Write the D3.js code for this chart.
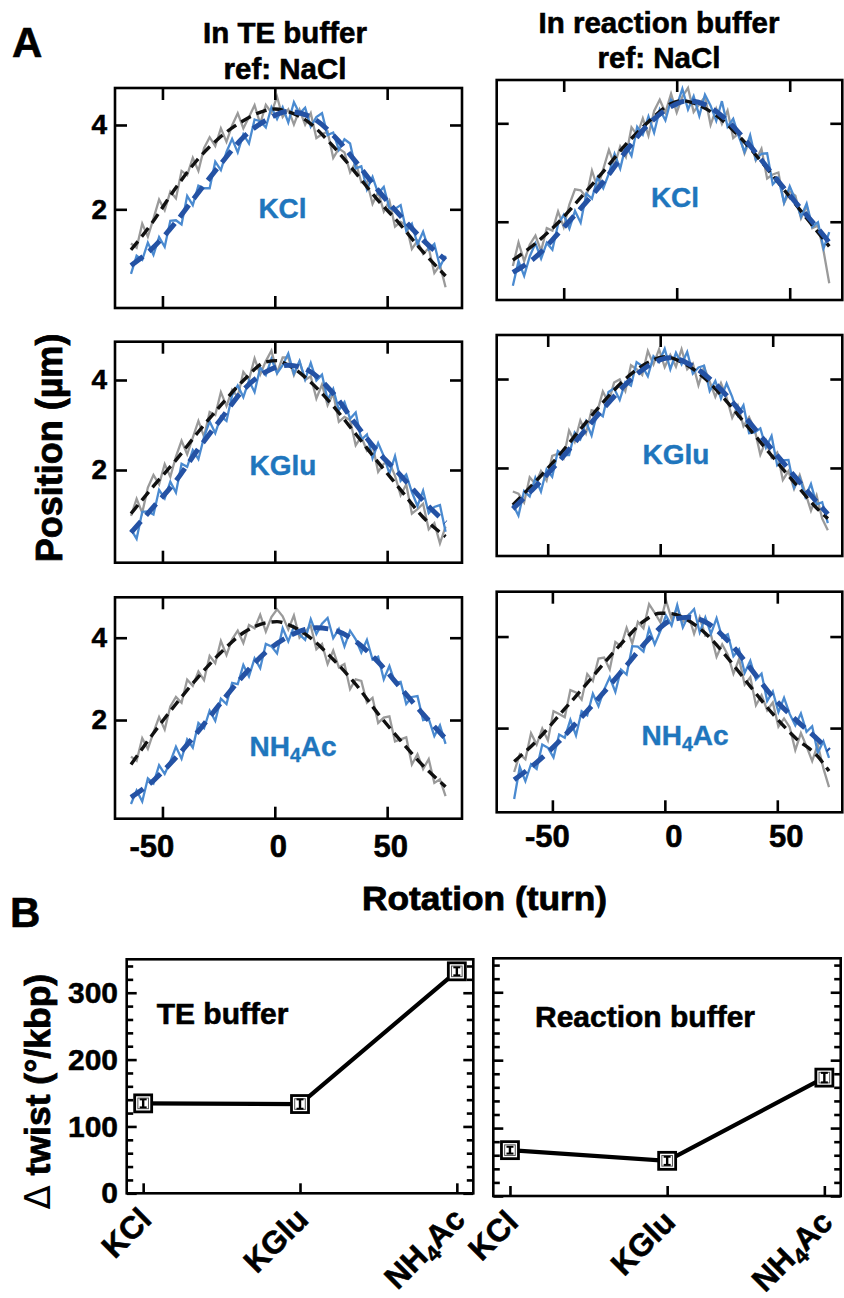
<!DOCTYPE html>
<html><head><meta charset="utf-8">
<script src="https://cdn.jsdelivr.net/npm/d3@7"></script>
<style>body{margin:0;background:#fff}svg{display:block}text{paint-order:stroke}</style>
</head><body>
<svg id="c" width="844" height="1298"></svg>
<script>
// ---------------- DATA ----------------
const salts = ["KCl", "KGlu", "NH4Ac"];
const rawStep = 2.5;                       // turns between samples
const rawStartTE = [-64, -64, -64];        // first rotation of each TE trace
const rawStartRB = [-72.5, -65.5, -67];    // first rotation of each reaction-buffer trace
const xTickVals = [-50, 0, 50];
const yTickVals = [2, 4];

// Panel A raw traces (position, µm), reference NaCl (grey) and salt (blue)
const teRefKCl = [1.19,1.09,1.66,1.35,1.78,2.23,1.98,2.42,2.26,2.91,2.81,3.22,2.91,3.45,3.71,3.50,3.92,3.60,3.99,4.28,3.92,4.19,4.47,4.03,4.48,4.29,4.67,4.19,4.37,4.01,4.36,4.01,4.28,3.69,3.78,3.84,3.22,3.44,3.35,2.88,3.11,2.64,2.66,2.13,2.41,1.95,2.20,1.59,1.70,1.63,1.06,1.25,0.94,1.08,0.49,0.68,0.15];
const teSaltKCl = [0.47,0.90,0.80,1.21,0.92,1.34,1.11,1.73,1.74,1.64,2.32,2.10,2.56,2.50,2.50,3.13,2.93,3.36,3.67,3.35,3.78,3.56,4.13,4.09,3.94,4.42,4.14,4.42,4.06,4.54,4.27,4.41,3.96,4.19,4.28,3.76,3.82,3.41,3.66,3.56,2.97,3.02,2.47,2.77,2.38,2.53,2.02,2.01,2.10,1.49,1.66,1.17,1.47,1.05,1.18,0.64,0.90];
const teRefKGlu = [0.98,1.36,1.05,1.61,1.89,1.68,2.13,1.85,2.30,2.65,2.35,2.72,3.09,2.74,3.29,3.22,3.73,3.42,3.78,3.63,4.18,4.01,4.48,4.12,4.42,4.65,4.16,4.50,4.50,4.11,4.41,4.00,4.08,3.59,3.90,3.44,3.70,3.07,3.18,3.11,2.55,2.74,2.43,2.55,1.96,2.14,2.17,1.87,1.44,1.68,1.03,1.13,1.25,0.68,0.82,0.37,0.74];
const teSaltKGlu = [0.68,0.47,1.07,1.08,1.01,1.56,1.37,1.74,1.50,2.14,2.07,2.44,2.24,2.73,3.08,2.82,3.19,3.09,3.66,3.88,3.62,3.99,3.73,4.28,4.11,4.47,4.15,4.33,4.59,4.14,4.42,4.01,4.38,3.99,4.12,3.56,3.80,3.33,3.51,3.14,3.28,2.67,2.79,2.26,2.60,2.31,1.92,2.31,1.76,1.90,1.51,1.20,1.54,1.04,1.18,1.22,0.63];
const teRefNH4 = [1.11,1.01,1.56,1.30,1.70,2.07,1.77,2.33,2.56,2.42,2.98,2.83,3.18,2.97,3.56,3.38,3.92,3.58,3.96,4.17,3.87,4.31,4.23,4.56,4.15,4.50,4.69,4.52,4.20,4.54,4.00,4.15,4.29,3.72,3.85,3.36,3.69,3.28,3.36,2.75,2.99,2.95,2.42,2.54,1.93,2.06,2.09,1.48,1.53,1.58,0.92,1.17,0.81,1.05,0.47,0.56,0.15];
const teSaltNH4 = [-0.04,0.29,0.02,0.58,0.46,0.90,0.69,0.99,1.35,1.06,1.53,1.33,1.93,1.80,2.23,1.98,2.52,2.39,2.90,2.87,3.34,3.06,3.50,3.26,3.85,3.79,3.62,4.23,3.91,4.27,4.08,3.95,4.45,4.09,4.34,4.48,3.99,4.21,3.79,4.17,3.96,3.64,3.95,3.47,3.54,2.99,3.31,2.90,2.93,2.39,2.56,2.58,2.00,2.03,1.61,1.87,1.42];
const rbRefKCl = [1.10,1.58,1.20,1.54,1.72,1.41,1.87,1.82,2.21,1.89,2.35,2.66,2.64,2.50,3.04,2.69,3.07,3.46,3.15,3.53,3.32,3.92,3.76,4.10,3.75,4.25,4.48,4.22,4.60,4.22,4.54,4.72,4.23,4.39,4.54,3.97,4.30,3.99,4.26,3.70,3.80,3.39,3.68,3.25,3.48,2.88,2.96,3.00,2.38,2.61,2.53,2.07,2.32,1.87,1.92,1.40,0.75];
const rbSaltKCl = [0.70,1.20,0.90,1.30,1.56,1.25,1.57,1.43,1.95,2.14,1.86,2.22,1.98,2.57,2.47,2.90,2.68,2.98,3.38,3.08,3.55,3.34,3.93,3.77,4.14,3.81,4.28,4.06,4.48,4.35,4.70,4.28,4.55,4.15,4.58,4.36,4.05,4.45,3.93,4.09,3.73,3.42,3.76,3.26,3.38,3.39,2.76,2.88,2.39,2.72,2.45,2.10,2.37,1.90,1.99,1.46,1.79];
const rbRefKGlu = [1.47,1.42,1.22,1.79,1.64,1.93,1.72,2.27,2.32,2.21,2.84,2.59,3.07,2.78,3.30,3.26,3.72,3.47,3.92,3.99,3.73,4.31,4.22,4.09,4.63,4.33,4.67,4.27,4.54,4.28,4.67,4.22,4.35,3.86,4.27,3.94,3.60,3.91,3.58,3.13,3.40,2.94,3.14,2.86,2.30,2.61,2.23,2.35,1.73,1.93,1.53,1.84,1.44,1.04,1.38,0.86,0.60];
const rbSaltKGlu = [1.18,0.93,1.48,1.36,1.78,1.47,1.97,1.80,2.38,2.29,2.29,2.80,2.65,3.04,2.73,3.25,3.16,3.71,3.79,3.53,3.93,3.85,4.38,4.29,4.06,4.51,4.38,4.68,4.22,4.59,4.33,4.61,4.12,4.26,4.30,3.73,3.96,3.56,3.90,3.60,3.19,3.41,2.78,2.80,2.89,2.46,2.72,2.06,2.17,2.18,1.56,1.78,1.35,1.64,1.18,1.23,0.76];
const rbRefNH4 = [1.04,1.43,1.32,1.89,1.64,1.99,1.73,2.37,2.31,2.24,2.83,2.78,2.62,3.18,3.03,3.52,3.54,3.28,3.88,3.79,4.19,3.85,4.32,4.18,4.71,4.52,4.31,4.79,4.38,4.62,4.32,4.47,4.06,4.42,4.02,4.04,3.56,3.83,3.60,3.19,3.51,2.95,3.11,2.50,2.72,2.39,2.56,2.03,2.21,2.02,1.52,1.89,1.60,1.28,1.64,1.12,0.71];
const rbSaltNH4 = [0.45,1.15,0.84,1.21,1.11,1.64,1.57,1.36,1.86,1.79,2.18,1.84,2.37,2.28,2.75,2.48,2.84,3.11,2.79,3.28,3.17,3.79,3.78,3.67,4.17,3.83,4.12,4.46,4.24,4.69,4.20,4.46,4.60,4.09,4.42,4.06,4.40,3.98,4.05,3.57,3.72,3.21,3.47,3.06,3.19,2.59,2.80,2.35,2.66,2.31,2.06,2.32,1.92,2.04,1.46,1.71,1.35];

// Panel A fitted curves: rotation (turn) and position (µm)
const teFitRefKClRot = [-64,-55,-45,-35,-25,-15,-5,0,5,15,25,35,45,55,65,76];
const teFitRefKClPos = [1.04,1.65,2.44,3.14,3.68,4.07,4.33,4.38,4.33,4.07,3.55,2.93,2.27,1.69,1.05,0.42];
const teFitSaltKClRot = [-64,-54,-44,-34,-24,-14,-4,6,16,26,36,46,56,66,76];
const teFitSaltKClPos = [0.67,1.10,1.70,2.40,3.08,3.71,4.11,4.32,4.19,3.76,3.13,2.45,1.84,1.27,0.80];
const teFitRefKGluRot = [-64,-54,-44,-34,-24,-14,-4,1,6,16,26,36,46,56,66,76];
const teFitRefKGluPos = [1.03,1.64,2.22,2.85,3.44,3.99,4.40,4.43,4.33,3.95,3.42,2.80,2.17,1.56,0.95,0.52];
const teFitSaltKGluRot = [-64,-54,-44,-34,-24,-14,-4,6,16,26,36,46,56,66,76];
const teFitSaltKGluPos = [0.61,1.18,1.76,2.47,3.13,3.78,4.18,4.33,4.18,3.70,3.02,2.40,1.88,1.32,0.83];
const teFitRefNH4Rot = [-64,-54,-44,-34,-24,-14,-4,1,6,16,26,36,46,56,66,76];
const teFitRefNH4Pos = [0.92,1.68,2.39,3.05,3.64,4.12,4.36,4.39,4.32,3.99,3.47,2.87,2.15,1.50,0.89,0.38];
const teFitSaltNH4Rot = [-64,-54,-44,-34,-24,-14,-4,6,13.5,18.5,26,36,46,56,66,76];
const teFitSaltNH4Pos = [0.12,0.53,1.09,1.73,2.42,3.08,3.65,4.03,4.20,4.24,4.19,3.91,3.41,2.78,2.14,1.55];
const rbFitRefKClRot = [-72.5,-62.5,-52.5,-42.5,-32.5,-22.5,-12.5,-2.5,2.5,7.5,17.5,27.5,37.5,47.5,57.5,67.5];
const rbFitRefKClPos = [1.22,1.56,1.98,2.49,3.02,3.57,4.03,4.40,4.46,4.41,4.16,3.74,3.22,2.65,2.07,1.50];
const rbFitSaltKClRot = [-72.5,-62.5,-52.5,-42.5,-32.5,-22.5,-12.5,-2.5,5,12.5,22.5,32.5,42.5,52.5,62.5,67.5];
const rbFitSaltKClPos = [0.97,1.28,1.76,2.27,2.81,3.43,3.98,4.34,4.46,4.38,4.05,3.54,2.96,2.40,1.86,1.58];
const rbFitRefKGluRot = [-65.5,-55.5,-45.5,-35.5,-25.5,-15.5,-5.5,2,9.5,19.5,29.5,39.5,49.5,59.5,69.5,74.5];
const rbFitRefKGluPos = [1.17,1.69,2.25,2.87,3.47,4.00,4.37,4.50,4.38,4.03,3.50,2.89,2.28,1.68,1.10,0.86];
const rbFitSaltKGluRot = [-65.5,-55.5,-45.5,-35.5,-25.5,-15.5,-5.5,4.5,14.5,24.5,34.5,44.5,54.5,64.5,74.5];
const rbFitSaltKGluPos = [1.08,1.58,2.12,2.72,3.32,3.87,4.29,4.48,4.29,3.89,3.34,2.73,2.13,1.53,0.96];
const rbFitRefNH4Rot = [-67,-57,-47,-37,-27,-17,-9.5,-2,3,10.5,18,28,38,48,58,68,73];
const rbFitRefNH4Pos = [1.27,1.72,2.28,2.84,3.42,3.97,4.33,4.51,4.50,4.35,4.07,3.53,2.91,2.31,1.79,1.38,1.06];
const rbFitSaltNH4Rot = [-67,-57,-47,-37,-27,-17,-7,3,10.5,18,28,38,48,58,68,73];
const rbFitSaltNH4Pos = [0.87,1.25,1.71,2.24,2.79,3.37,3.95,4.36,4.42,4.32,3.91,3.31,2.68,2.19,1.75,1.51];

// Panel B: Δ twist (°/kbp)
const twistTE = [134.5, 133.5, 332];
const twistTEErr = [6, 7, 6];
const twistRB = [67.5, 51.8, 174.3];
const twistRBErr = [5, 6, 7];
const twistMajorTicks = [0, 100, 200, 300];

// ---------------- DRAWING ----------------
const FONT = '"Liberation Sans", Arial, Helvetica, sans-serif';
const GRAY = "#9a9a9a", BLUE_RAW = "#4a8ad0", BLUE_FIT = "#2452a4", LABEL_BLUE = "#1f76bd";
const svg = d3.select("#c");
const defs = svg.append("defs");

function addText(parent, str, x, y, size, anchor, opts = {}) {
  const col = opts.fill || "#000";
  const t = parent.append("text").attr("x", x).attr("y", y)
    .attr("font-family", FONT).attr("font-weight", "bold")
    .attr("font-size", size).attr("text-anchor", anchor || "start")
    .attr("fill", col).attr("stroke", col).attr("stroke-width", opts.sw == null ? 0.6 : opts.sw);
  if (opts.transform) t.attr("transform", opts.transform);
  if (opts.textLength) t.attr("textLength", opts.textLength).attr("lengthAdjust", "spacingAndGlyphs");
  if (str === "NH4Ac") {
    t.append("tspan").text("NH");
    t.append("tspan").attr("font-size", "0.7em").attr("dy", "0.3em").text("4");
    t.append("tspan").attr("dy", "-0.21em").text("Ac");
  } else t.text(str);
  return t;
}

function styleAxis(s, size) {
  s.select(".domain").remove();
  s.selectAll(".tick line").attr("stroke-width", 2.6);
  s.selectAll(".tick text").attr("stroke", "#000").attr("stroke-width", 0.5);
  s.attr("font-family", FONT).attr("font-size", size || 26).attr("font-weight", "bold");
}

const panels = [
  {f:[115,88,462,308], xd:[-71.12,83.31], yd:[-0.34,4.877], s:rawStartTE[0], g:teRefKCl, b:teSaltKCl,
   fr:[teFitRefKClRot,teFitRefKClPos], fs:[teFitSaltKClRot,teFitSaltKClPos], name:salts[0], lab:[282.5,218], yl:true, xl:null},
  {f:[115,341.7,462,562.7], xd:[-71.12,83.31], yd:[-0.06,4.851], s:rawStartTE[1], g:teRefKGlu, b:teSaltKGlu,
   fr:[teFitRefKGluRot,teFitRefKGluPos], fs:[teFitSaltKGluRot,teFitSaltKGluPos], name:salts[1], lab:[283,475], yl:true, xl:null},
  {f:[115,597.3,462,818.7], xd:[-71.12,83.31], yd:[-0.398,4.982], s:rawStartTE[2], g:teRefNH4, b:teSaltNH4,
   fr:[teFitRefNH4Rot,teFitRefNH4Pos], fs:[teFitSaltNH4Rot,teFitSaltNH4Pos], name:salts[2], lab:[293,755.7], yl:true, xl:{dx:3.5, y:857}},
  {f:[496.7,80,842.3,300], xd:[-79.65,73.27], yd:[0.41,4.88], s:rawStartRB[0], g:rbRefKCl, b:rbSaltKCl,
   fr:[rbFitRefKClRot,rbFitRefKClPos], fs:[rbFitSaltKClRot,rbFitSaltKClPos], name:salts[0], lab:[675,206.7], yl:false, xl:null},
  {f:[496.7,335,842.3,556], xd:[-72.67,80.93], yd:[0.02,4.99], s:rawStartRB[1], g:rbRefKGlu, b:rbSaltKGlu,
   fr:[rbFitRefKGluRot,rbFitRefKGluPos], fs:[rbFitSaltKGluRot,rbFitSaltKGluPos], name:salts[1], lab:[676,464], yl:false, xl:null},
  {f:[496.7,591.7,842.3,812.3], xd:[-74.76,78.9], yd:[0.16,4.98], s:rawStartRB[2], g:rbRefNH4, b:rbSaltNH4,
   fr:[rbFitRefNH4Rot,rbFitRefNH4Pos], fs:[rbFitSaltNH4Rot,rbFitSaltNH4Pos], name:salts[2], lab:[685,745], yl:false, xl:{dx:9, y:847}}
];

panels.forEach((p, idx) => {
  const [x0, y0, x1, y1] = p.f;
  const x = d3.scaleLinear().domain(p.xd).range([x0, x1]);
  const y = d3.scaleLinear().domain(p.yd).range([y1, y0]);
  defs.append("clipPath").attr("id", "cp" + idx).append("rect")
    .attr("x", x0).attr("y", y0).attr("width", x1 - x0).attr("height", y1 - y0);
  const g = svg.append("g").attr("clip-path", `url(#cp${idx})`);
  const rawLine = d3.line().x((d, i) => x(p.s + i * rawStep)).y(d => y(d));
  g.append("path").datum(p.g).attr("d", rawLine).attr("fill", "none")
    .attr("stroke", GRAY).attr("stroke-width", 2.3).attr("stroke-linejoin", "miter");
  g.append("path").datum(p.b).attr("d", rawLine).attr("fill", "none")
    .attr("stroke", BLUE_RAW).attr("stroke-width", 2.3).attr("stroke-linejoin", "miter");
  const fitLine = d3.line().curve(d3.curveMonotoneX).x(d => x(d[0])).y(d => y(d[1]));
  g.append("path").datum(d3.zip(p.fr[0], p.fr[1])).attr("d", fitLine).attr("fill", "none")
    .attr("stroke", "#111").attr("stroke-width", 3.4).attr("stroke-dasharray", "11,6");
  g.append("path").datum(d3.zip(p.fs[0], p.fs[1])).attr("d", fitLine).attr("fill", "none")
    .attr("stroke", BLUE_FIT).attr("stroke-width", 5).attr("stroke-dasharray", "15,8");

  const ax = svg.append("g");
  ax.append("g").attr("transform", `translate(${x0},0)`)
    .call(d3.axisLeft(y).tickValues(yTickVals).tickSize(-12).tickSizeOuter(0).tickPadding(8)
      .tickFormat(p.yl ? d3.format("d") : ""))
    .call(s => styleAxis(s, 28));
  ax.append("g").attr("transform", `translate(${x1},0)`)
    .call(d3.axisRight(y).tickValues(yTickVals).tickSize(-12).tickSizeOuter(0).tickFormat(""))
    .call(s => styleAxis(s));
  ax.append("g").attr("transform", `translate(0,${y0})`)
    .call(d3.axisTop(x).tickValues(xTickVals).tickSize(-12).tickSizeOuter(0).tickFormat(""))
    .call(s => styleAxis(s));
  ax.append("g").attr("transform", `translate(0,${y1})`)
    .call(d3.axisBottom(x).tickValues(xTickVals).tickSize(-12).tickSizeOuter(0).tickFormat(""))
    .call(s => styleAxis(s));
  ax.append("rect").attr("x", x0).attr("y", y0).attr("width", x1 - x0).attr("height", y1 - y0)
    .attr("fill", "none").attr("stroke", "#000").attr("stroke-width", 2.6);
  if (p.xl) {
    xTickVals.forEach(v => {
      addText(svg, String(v), x(v) + p.xl.dx + (v < 0 ? -14 : 0), p.xl.y, 31, "middle");
    });
  }
  addText(svg, p.name, p.lab[0], p.lab[1], 28, "middle", {fill: LABEL_BLUE, sw: 0.4});
});

// titles & panel letters
addText(svg, "A", 12, 57, 42, "start");
addText(svg, "In TE buffer", 285, 43, 29.5, "middle");
addText(svg, "ref: NaCl", 285, 79, 29.5, "middle");
addText(svg, "In reaction buffer", 659, 33, 29.5, "middle");
addText(svg, "ref: NaCl", 659, 68, 29.5, "middle");
addText(svg, "Position (µm)", 0, 0, 36, "middle", {transform: "translate(62,448) rotate(-90)", sw: 0.8});
addText(svg, "Rotation (turn)", 484.5, 910, 33, "middle", {textLength: 245, sw: 0.8});
addText(svg, "B", 10, 927, 42, "start");

// Panel B
const bPanels = [
  {f:[126.7,959.3,473.3,1193.3], xd:[-0.105,2.105], v:twistTE, e:twistTEErr, label:"TE buffer", lp:[156.7,1024], yl:true},
  {f:[493.3,958.3,840.7,1196], xd:[-0.106,2.104], v:twistRB, e:twistRBErr, label:"Reaction buffer", lp:[535,1027], yl:false}
];
bPanels.forEach(p => {
  const [x0, y0, x1, y1] = p.f;
  const x = d3.scaleLinear().domain(p.xd).range([x0, x1]);
  const y = d3.scaleLinear().domain([0, 350]).range([y1, y0]);
  const minor = d3.range(20, 350, 20).filter(v => v % 100 !== 0);
  const g = svg.append("g");
  g.append("g").attr("transform", `translate(${x0},0)`)
    .call(d3.axisLeft(y).tickValues(twistMajorTicks).tickSize(-10).tickSizeOuter(0).tickPadding(8.7)
      .tickFormat(p.yl ? d3.format("d") : ""))
    .call(s => styleAxis(s, 30));
  g.append("g").attr("transform", `translate(${x0},0)`)
    .call(d3.axisLeft(y).tickValues(minor).tickSize(-6.5).tickSizeOuter(0).tickFormat(""))
    .call(s => styleAxis(s));
  g.append("g").attr("transform", `translate(${x1},0)`)
    .call(d3.axisRight(y).tickValues(twistMajorTicks).tickSize(-10).tickSizeOuter(0).tickFormat(""))
    .call(s => styleAxis(s));
  g.append("g").attr("transform", `translate(${x1},0)`)
    .call(d3.axisRight(y).tickValues(minor).tickSize(-6.5).tickSizeOuter(0).tickFormat(""))
    .call(s => styleAxis(s));
  g.append("g").attr("transform", `translate(0,${y1})`)
    .call(d3.axisBottom(x).tickValues([0, 1, 2]).tickSize(-10).tickSizeOuter(0).tickFormat(""))
    .call(s => styleAxis(s));
  g.append("rect").attr("x", x0).attr("y", y0).attr("width", x1 - x0).attr("height", y1 - y0)
    .attr("fill", "none").attr("stroke", "#000").attr("stroke-width", 2.6);
  g.append("path").datum(p.v).attr("d", d3.line().x((d, i) => x(i)).y(d => y(d)))
    .attr("fill", "none").attr("stroke", "#000").attr("stroke-width", 4.2);
  p.v.forEach((v, i) => {
    const cx = x(i), cy = y(v);
    g.append("rect").attr("x", cx - 8.5).attr("y", cy - 8.5).attr("width", 17).attr("height", 17)
      .attr("fill", "#fff").attr("stroke", "#000").attr("stroke-width", 2.8);
    g.append("rect").attr("x", cx - 5.3).attr("y", cy - 5.3).attr("width", 10.6).attr("height", 10.6)
      .attr("fill", "none").attr("stroke", "#555").attr("stroke-width", 1);
    const top = y(v + p.e[i]), bot = y(v - p.e[i]);
    g.append("line").attr("x1", cx).attr("x2", cx).attr("y1", top).attr("y2", bot).attr("stroke", "#000").attr("stroke-width", 2.4);
    g.append("line").attr("x1", cx - 3.5).attr("x2", cx + 3.5).attr("y1", top).attr("y2", top).attr("stroke", "#000").attr("stroke-width", 2);
    g.append("line").attr("x1", cx - 3.5).attr("x2", cx + 3.5).attr("y1", bot).attr("y2", bot).attr("stroke", "#000").attr("stroke-width", 2);
  });
  salts.forEach((s, i) => {
    const px = x(i) + 10, py = y1 + 28;
    addText(svg, s, 0, 0, 31.5, "end", {transform: `translate(${px},${py}) rotate(-45)`});
  });
  addText(svg, p.label, p.lp[0], p.lp[1], 30, "start");
});

// Δ twist axis title
const tw = svg.append("text").attr("transform", "translate(50,1091.7) rotate(-90)")
  .attr("text-anchor", "middle").attr("font-family", FONT).attr("font-size", 35.5).attr("font-weight", "bold")
  .attr("fill", "#000");
tw.append("tspan").attr("font-family", '"DejaVu Sans", sans-serif').attr("font-weight", "normal").text("\u0394");
tw.append("tspan").attr("stroke", "#000").attr("stroke-width", 0.8).text(" twist (\u00B0/kbp)");
</script>
</body></html>
